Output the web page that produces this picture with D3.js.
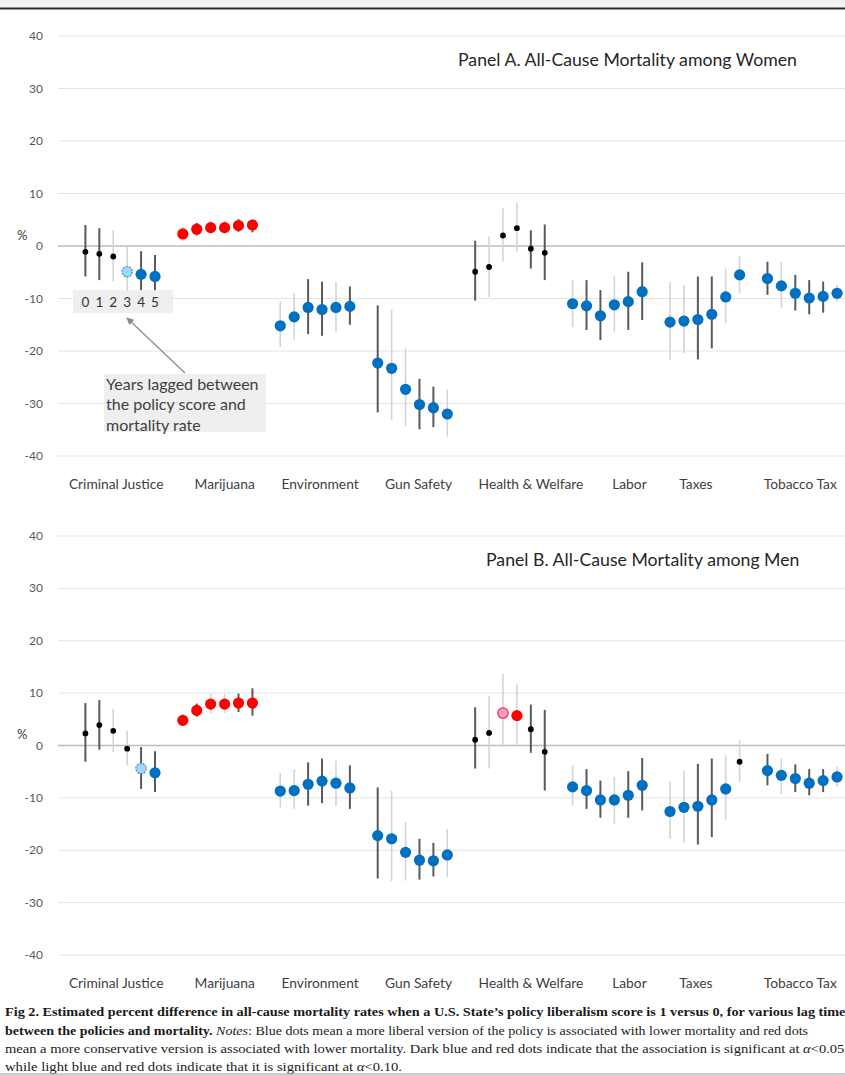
<!DOCTYPE html>
<html>
<head>
<meta charset="utf-8">
<script src="https://cdn.jsdelivr.net/npm/d3@7"></script>
<style>
  body { margin: 0; background: #fff; }
  svg { display: block; }
</style>
</head>
<body>
<svg id="chart" width="845" height="1075"></svg>
<script>
// ---- Data -------------------------------------------------------------
const categories = ["Criminal Justice", "Marijuana", "Environment", "Gun Safety",
                    "Health & Welfare", "Labor", "Taxes", "Tobacco Tax"];
const lags = [0, 1, 2, 3, 4, 5];
const yTicks = [40, 30, 20, 10, 0, -10, -20, -30, -40];

// Panel A: all-cause mortality among women (percent difference, per lag year)
const womenEstimate = [
  [-1.1, -1.5, -2.0, -4.9, -5.4, -5.8],
  [2.3, 3.2, 3.5, 3.5, 3.9, 4.0],
  [-15.2, -13.5, -11.7, -12.1, -11.7, -11.5],
  [-22.3, -23.3, -27.3, -30.2, -30.8, -32.0],
  [-4.9, -4.0, 2.0, 3.4, -0.5, -1.3],
  [-11.0, -11.4, -13.3, -11.2, -10.6, -8.7],
  [-14.5, -14.3, -14.0, -13.0, -9.7, -5.5],
  [-6.2, -7.6, -9.0, -9.9, -9.6, -9.0]
];
const womenLower = [
  [-5.8, -6.5, -6.8, -9.5, -10.0, -9.6],
  [1.0, 2.0, 2.3, 2.4, 2.7, 2.6],
  [-19.2, -17.8, -16.8, -17.1, -16.3, -15.0],
  [-31.7, -33.1, -34.3, -34.9, -34.5, -36.3],
  [-10.4, -9.7, -3.0, -1.1, -4.3, -6.5],
  [-15.4, -16.0, -17.9, -16.3, -16.0, -14.1],
  [-21.6, -20.4, -21.6, -19.5, -14.7, -9.0],
  [-9.3, -11.9, -12.3, -13.0, -12.7, -10.6]
];
const womenUpper = [
  [4.0, 3.4, 3.0, -0.1, -1.0, -1.7],
  [3.6, 4.4, 4.8, 4.8, 5.1, 5.0],
  [-10.6, -9.0, -6.3, -6.8, -6.8, -7.7],
  [-11.3, -12.1, -19.5, -25.3, -26.8, -27.4],
  [1.0, 1.8, 7.2, 8.2, 3.0, 4.1],
  [-6.5, -6.5, -8.4, -5.8, -4.9, -3.1],
  [-6.8, -7.4, -5.8, -5.8, -4.3, -2.0],
  [-3.0, -3.0, -5.5, -6.5, -6.8, -7.4]
];
// ns = not significant, b05/b10 = liberal policy better, r05/r10 = conservative policy better
const womenSignificance = [
  ["ns", "ns", "ns", "b10", "b05", "b05"],
  ["r05", "r05", "r05", "r05", "r05", "r05"],
  ["b05", "b05", "b05", "b05", "b05", "b05"],
  ["b05", "b05", "b05", "b05", "b05", "b05"],
  ["ns", "ns", "ns", "ns", "ns", "ns"],
  ["b05", "b05", "b05", "b05", "b05", "b05"],
  ["b05", "b05", "b05", "b05", "b05", "b05"],
  ["b05", "b05", "b05", "b05", "b05", "b05"]
];

// Panel B: all-cause mortality among men
const menEstimate = [
  [2.3, 3.9, 2.8, -0.6, -4.4, -5.2],
  [4.8, 6.7, 7.9, 7.9, 8.1, 8.1],
  [-8.7, -8.6, -7.4, -6.8, -7.2, -8.1],
  [-17.2, -17.8, -20.4, -21.9, -22.0, -20.9],
  [1.1, 2.4, 6.2, 5.7, 3.1, -1.2],
  [-7.9, -8.6, -10.4, -10.4, -9.5, -7.6],
  [-12.6, -11.8, -11.6, -10.4, -8.3, -3.1],
  [-4.8, -5.7, -6.3, -7.2, -6.7, -6.0]
];
const menLower = [
  [-3.1, -0.8, -1.3, -3.8, -8.3, -8.9],
  [3.8, 5.5, 6.1, 6.2, 6.4, 5.7],
  [-11.8, -12.1, -11.5, -11.0, -11.5, -12.1],
  [-25.4, -25.9, -25.8, -25.6, -25.0, -25.1],
  [-4.4, -4.4, -0.3, 0.0, -1.4, -8.6],
  [-11.5, -12.1, -13.8, -14.9, -13.8, -12.4],
  [-17.8, -18.5, -18.9, -17.5, -14.2, -7.0],
  [-7.6, -9.2, -8.9, -9.5, -8.9, -7.9]
];
const menUpper = [
  [8.1, 8.7, 7.0, 2.7, -0.3, -1.1],
  [6.0, 8.0, 9.9, 9.8, 9.9, 10.9],
  [-5.3, -4.6, -3.2, -2.5, -2.9, -3.8],
  [-8.0, -8.7, -14.6, -17.8, -18.6, -15.9],
  [7.3, 9.5, 13.7, 11.8, 7.8, 6.8],
  [-3.8, -4.5, -6.7, -6.0, -4.9, -2.4],
  [-6.9, -4.8, -3.5, -2.5, -1.9, 1.0],
  [-1.6, -2.5, -3.6, -4.5, -4.5, -4.1]
];
const menSignificance = [
  ["ns", "ns", "ns", "ns", "b10", "b05"],
  ["r05", "r05", "r05", "r05", "r05", "r05"],
  ["b05", "b05", "b05", "b05", "b05", "b05"],
  ["b05", "b05", "b05", "b05", "b05", "b05"],
  ["ns", "ns", "r10", "r05", "ns", "ns"],
  ["b05", "b05", "b05", "b05", "b05", "b05"],
  ["b05", "b05", "b05", "b05", "b05", "ns"],
  ["b05", "b05", "b05", "b05", "b05", "b05"]
];

// Error-bar tone per lag (two interval series drawn in dark and light grey)
const barTone = [
  ["dark", "dark", "light", "light", "dark", "dark"],
  ["light", "dark", "light", "light", "dark", "dark"],
  ["light", "light", "dark", "dark", "light", "dark"],
  ["dark", "light", "light", "dark", "dark", "light"],
  ["dark", "light", "light", "light", "dark", "dark"],
  ["light", "dark", "dark", "light", "dark", "dark"],
  ["light", "light", "dark", "dark", "light", "light"],
  ["dark", "light", "dark", "dark", "dark", "light"]
];

// ---- Layout & styles --------------------------------------------------
const FONT = "Lato, 'Open Sans', sans-serif";
const svg = d3.select("#chart");

const xCat = d3.scaleBand().domain(categories).range([71.5, 851]);
const xLag = d3.scalePoint().domain(lags).range([13.9, 83.5]);
const xPos = (ci, lag) => xCat(categories[ci]) + xLag(lag);
// horizontal nudges of the category captions along the axis
const captionNudge = [-4, 7, 5, 6, 21, 22, -9, -2];

const dotStyle = {
  ns:  { r: 2.9, fill: "#000", stroke: "none", dash: null },
  b05: { r: 5.6, fill: "#0070c0", stroke: "none", dash: null },
  b10: { r: 5.2, fill: "#a6d5f3", stroke: "#2e8fd3", dash: "2,1.2" },
  r05: { r: 5.6, fill: "#ff0000", stroke: "none", dash: null },
  r10: { r: 5.2, fill: "#ff9ec4", stroke: "#ff2040", dash: null }
};
const toneStyle = { dark: { c: "#5a5a5a", w: 2 }, light: { c: "#d4d4d4", w: 1.6 } };

// top page edge
svg.append("rect").attr("x", 0).attr("y", 0).attr("width", 845).attr("height", 7.5).attr("fill", "#f3f3f3");
svg.append("line").attr("x1", 0).attr("x2", 845).attr("y1", 8.5).attr("y2", 8.5)
  .attr("stroke", "#2a2a2a").attr("stroke-width", 2);

const panels = [
  { range: [456, 36], title: "Panel A. All-Cause Mortality among Women", titleX: 458, titleY: 66,
    captionY: 489, est: womenEstimate, lo: womenLower, hi: womenUpper, sig: womenSignificance, note: true },
  { range: [955, 536], title: "Panel B. All-Cause Mortality among Men", titleX: 486, titleY: 566,
    captionY: 988, est: menEstimate, lo: menLower, hi: menUpper, sig: menSignificance, note: false }
];

panels.forEach(p => {
  const y = d3.scaleLinear().domain([-40, 40]).range(p.range);
  const g = svg.append("g");

  // gridlines
  g.selectAll("line.grid").data(yTicks).join("line")
    .attr("x1", 58).attr("x2", 845)
    .attr("y1", d => y(d)).attr("y2", d => y(d))
    .attr("stroke", d => d === 0 ? "#bdbdbd" : "#e4e4e4")
    .attr("stroke-width", d => d === 0 ? 1.6 : 1);

  // y tick labels
  g.selectAll("text.tick").data(yTicks).join("text")
    .attr("x", 43).attr("y", d => y(d) + 4)
    .attr("text-anchor", "end")
    .attr("font-family", FONT).attr("font-size", 12).attr("fill", "#595959")
    .text(d => d);

  g.append("text").attr("x", 17).attr("y", y(2) + 4)
    .attr("font-family", FONT).attr("font-size", 13).attr("fill", "#404040").text("%");

  // flatten per-lag points
  const pts = [];
  categories.forEach((c, ci) => lags.forEach((l, li) => pts.push({
    ci, l, est: p.est[ci][li], lo: p.lo[ci][li], hi: p.hi[ci][li],
    sig: p.sig[ci][li], tone: barTone[ci][li]
  })));

  // confidence intervals
  g.selectAll("line.ci").data(pts).join("line")
    .attr("x1", d => xPos(d.ci, d.l)).attr("x2", d => xPos(d.ci, d.l))
    .attr("y1", d => y(d.hi)).attr("y2", d => y(d.lo))
    .attr("stroke", d => toneStyle[d.tone].c)
    .attr("stroke-width", d => toneStyle[d.tone].w);

  // point estimates
  g.selectAll("circle.pt").data(pts).join("circle")
    .attr("cx", d => xPos(d.ci, d.l)).attr("cy", d => y(d.est))
    .attr("r", d => dotStyle[d.sig].r)
    .attr("fill", d => dotStyle[d.sig].fill)
    .attr("stroke", d => dotStyle[d.sig].stroke)
    .attr("stroke-width", 1.2)
    .attr("stroke-dasharray", d => dotStyle[d.sig].dash);

  // category captions
  g.selectAll("text.cat").data(categories).join("text")
    .attr("x", (d, i) => xCat(d) + xCat.bandwidth() / 2 + captionNudge[i])
    .attr("y", p.captionY)
    .attr("text-anchor", "middle")
    .attr("font-family", FONT).attr("font-size", 13.8).attr("fill", "#404040")
    .text(d => d);

  // panel title
  g.append("text").attr("x", p.titleX).attr("y", p.titleY)
    .attr("font-family", FONT).attr("font-size", 17.7).attr("fill", "#262626")
    .text(p.title);

  if (p.note) {
    // lag-year key beneath the first group
    const key = g.append("g");
    key.append("rect").attr("x", 73).attr("y", y(-8.4)).attr("width", 100).attr("height", 23)
      .attr("fill", "#efefef");
    key.selectAll("text").data(lags).join("text")
      .attr("x", d => xPos(0, d)).attr("y", y(-8.4) + 17)
      .attr("text-anchor", "middle")
      .attr("font-family", FONT).attr("font-size", 13.5).attr("fill", "#333")
      .text(d => d);

    // pointer from the explanation to the key
    svg.append("defs").append("marker").attr("id", "arrowHead")
      .attr("viewBox", "0 0 10 10").attr("refX", 9).attr("refY", 5)
      .attr("markerWidth", 6).attr("markerHeight", 6).attr("orient", "auto")
      .append("path").attr("d", "M0,0 L10,5 L0,10 z").attr("fill", "#8a8a8a");
    key.append("line").attr("x1", 185).attr("y1", 373).attr("x2", 127).attr("y2", 318)
      .attr("stroke", "#8a8a8a").attr("stroke-width", 1.2)
      .attr("marker-end", "url(#arrowHead)");

    key.append("rect").attr("x", 104).attr("y", 374).attr("width", 162).attr("height", 58)
      .attr("fill", "#efefef");
    ["Years lagged between", "the policy score and", "mortality rate"].forEach((t, i) => {
      key.append("text").attr("x", 106).attr("y", 389.5 + i * 20.5)
        .attr("font-family", FONT).attr("font-size", 16).attr("fill", "#404040").text(t);
    });
  }
});

// ---- Figure caption -----------------------------------------------------
const cap = svg.append("g").attr("font-family", "'Liberation Serif', 'DejaVu Serif', serif")
  .attr("font-size", 13).attr("fill", "#1a1a1a");

const l1 = cap.append("text").attr("x", 5).attr("y", 1016)
  .attr("textLength", 846).attr("lengthAdjust", "spacingAndGlyphs").attr("font-weight", "bold");
l1.text("Fig 2. Estimated percent difference in all-cause mortality rates when a U.S. State\u2019s policy liberalism score is 1 versus 0, for various lag times");

const l2 = cap.append("text").attr("x", 5).attr("y", 1034.5)
  .attr("textLength", 803).attr("lengthAdjust", "spacingAndGlyphs");
l2.append("tspan").attr("font-weight", "bold").text("between the policies and mortality. ");
l2.append("tspan").attr("font-style", "italic").text("Notes");
l2.append("tspan").text(": Blue dots mean a more liberal version of the policy is associated with lower mortality and red dots");

const l3 = cap.append("text").attr("x", 5).attr("y", 1053)
  .attr("textLength", 843).attr("lengthAdjust", "spacingAndGlyphs");
l3.append("tspan").text("mean a more conservative version is associated with lower mortality. Dark blue and red dots indicate that the association is significant at ");
l3.append("tspan").attr("font-style", "italic").text("\u03b1");
l3.append("tspan").text("<0.05,");

const l4 = cap.append("text").attr("x", 5).attr("y", 1071)
  .attr("textLength", 397).attr("lengthAdjust", "spacingAndGlyphs");
l4.append("tspan").text("while light blue and red dots indicate that it is significant at ");
l4.append("tspan").attr("font-style", "italic").text("\u03b1");
l4.append("tspan").text("<0.10.");

svg.append("line").attr("x1", 0).attr("x2", 845).attr("y1", 1074).attr("y2", 1074)
  .attr("stroke", "#9a9a9a").attr("stroke-width", 1);
</script>
</body>
</html>
